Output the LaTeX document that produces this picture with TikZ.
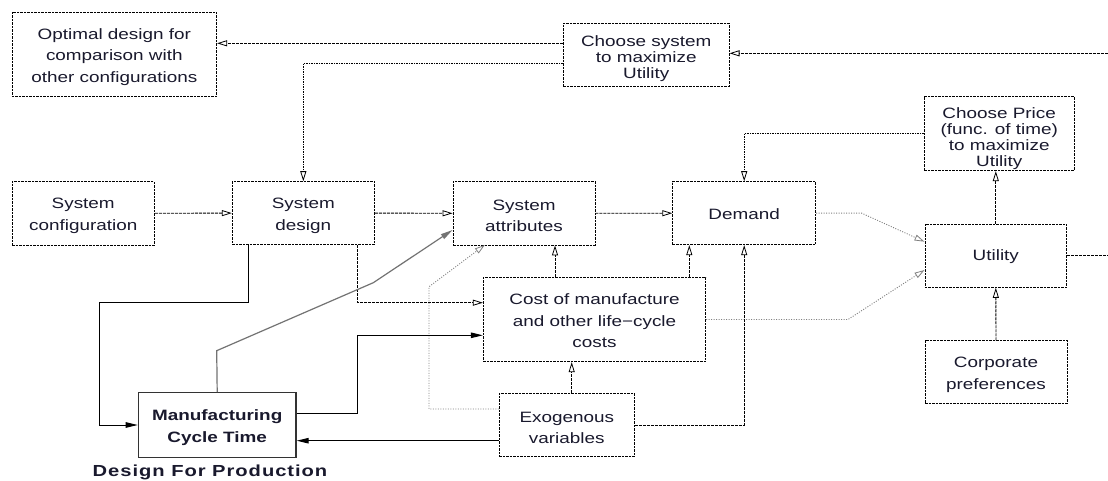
\documentclass[tikz,border=0pt]{standalone}
\usepackage{fontspec}
\setmainfont{Liberation Sans}[FakeStretch=1.26]
\usetikzlibrary{arrows.meta}
\definecolor{txt}{RGB}{25,25,45}
\newcommand{\stA}{\rule{0pt}{16pt}}
\newcommand{\stB}{\rule{0pt}{18pt}}
\newcommand{\stC}{\rule{0pt}{21pt}}
\newcommand{\stD}{\rule{0pt}{13.5pt}}
\begin{document}
\begin{tikzpicture}[x=1pt,y=-1pt,
  box/.style={draw=black, dash pattern=on 2.5pt off 1pt, line width=0.9pt, rectangle, inner sep=0pt, align=center, text=txt, font=\fontsize{15}{21.5}\selectfont},
  tbox/.style={box, font=\fontsize{15}{16}\selectfont},
  dsh/.style={draw=black, line width=0.9pt, dash pattern=on 3pt off 1pt},
  dts/.style={draw=black, line width=0.9pt, dash pattern=on 1.5pt off 1pt},
  gdt/.style={draw=black!50, line width=0.9pt, dash pattern=on 1pt off 1.5pt},
  sol/.style={draw=black, line width=1pt},
  gsol/.style={draw=black!55, line width=1.2pt},
  oarr/.style={-{Triangle[open,length=10pt,width=6pt,line width=0.8pt]}},
  farr/.style={-{Triangle[length=12pt,width=5.5pt]}},
]
\useasboundingbox (0,0) rectangle (1108,481);
\fill[white] (0,0) rectangle (1108,481);

% nodes
\node[box, minimum width=204.7pt, minimum height=84.4pt] (opt) at (114.3,54.5) {\stA Optimal design for\\comparison with\\other configurations};
\node[tbox, minimum width=165.7pt, minimum height=62.7pt] (csys) at (646.2,54.7) {\stB Choose system\\to maximize\\Utility};
\node[tbox, minimum width=149.7pt, minimum height=74pt] (cprice) at (999.2,133.7) {\stC Choose Price\\(func. of time)\\to maximize\\Utility};
\node[box, minimum width=142.3pt, minimum height=63.3pt] (sconf) at (83.2,213.3) {\stA System\\configuration};
\node[box, minimum width=142pt, minimum height=62.8pt] (sdes) at (303.3,213.1) {\stA System\\design};
\node[box, minimum width=142pt, minimum height=63.3pt] (sattr) at (524,213.3) {\stA System\\attributes};
\node[box, minimum width=143pt, minimum height=63pt] (demand) at (744.2,213.2) {\stD Demand};
\node[box, minimum width=141.7pt, minimum height=63.3pt] (util) at (995.8,255.7) {\stD Utility};
\node[box, minimum width=222.4pt, minimum height=84.4pt] (cost) at (594.5,319.5) {\stD Cost of manufacture\\and other life−cycle\\costs};
\node[box, minimum width=142pt, minimum height=62.6pt] (corp) at (996,372) {\stA Corporate\\preferences};
\node[draw=black!80, line width=1.3pt, rectangle, inner sep=0pt, align=center, text=txt, font=\fontsize{15}{21.5}\selectfont\bfseries, minimum width=157.7pt, minimum height=64.6pt] (manuf) at (217.2,425) {\stA Manufacturing\\Cycle Time};
\node[box, minimum width=135pt, minimum height=63.4pt] (exog) at (566.8,425) {\stA Exogenous\\variables};
\node[text=txt, inner sep=0pt, font=\fontsize{16}{18}\selectfont\bfseries\addfontfeature{LetterSpace=6}] (dfp) at (210,472.7) {Design For Production};

% helper coordinates
\coordinate (rU) at (1108,255.7);
\coordinate (rC) at (1108,53.3);
\coordinate (x555) at (555,0);
\coordinate (x689) at (689.3,0);
\coordinate (x572) at (571.7,0);
\coordinate (x358) at (357.7,0);
\coordinate (x248) at (248.3,0);
\coordinate (dmb) at (861.7,213.2);
\coordinate (csb) at (848,319.5);
\coordinate (exa) at (429,409);
\coordinate (exb) at (429,286.7);
\coordinate (exc) at (484.8,245);
\coordinate (sdm) at (99,302.7);
\coordinate (mga) at (216.7,350.7);
\coordinate (mgb) at (373.3,282.7);

% connectors
\draw[dsh, oarr] (csys.west |- 0,43.3) -- (opt.east |- 0,43.3);
\draw[dts, oarr] (csys.west |- 0,63.3) -| (sdes.north);
\draw[dsh] (util.east) -- (rU);
\draw[dsh, oarr] (rC) -- (csys.east |- rC);
\draw[dsh, oarr] (sconf.east) -- (sdes.west);
\draw[dsh, oarr] (sdes.east) -- (sattr.west);
\draw[dsh, oarr] (sattr.east) -- (demand.west);
\draw[gdt, oarr] (demand.east) -- (dmb) -- (util.west |- 0,241.7);
\draw[gdt, oarr] (cost.east) -- (csb) -- (util.west |- 0,270);
\draw[dsh, oarr] (util.north) -- (util.north |- cprice.south);
\draw[dts, oarr] (cprice.west |- 0,133.3) -| (demand.north);
\draw[dsh, oarr] (corp.north) -- (util.south);
\draw[dsh, oarr] (cost.north -| x555) -- (sattr.south -| x555);
\draw[dsh, oarr] (cost.north -| x689) -- (demand.south -| x689);
\draw[dsh, oarr] (exog.east) -| (demand.south);
\draw[dsh, oarr] (exog.north -| x572) -- (cost.south -| x572);
\draw[gdt, oarr] (exog.west |- exa) -- (exa) -- (exb) -- (exc);
\draw[dsh, oarr] (sdes.south -| x358) |- (cost.west |- 0,302.7);
\draw[sol, farr] (sdes.south -| x248) |- (sdm) |- (manuf.west);
\draw[gsol, farr] (manuf.north) -- (mga) -- (mgb) -- (sattr.west |- 0,230);
\draw[sol, farr] (manuf.east |- 0,413.3) -- (x358 |- 0,413.3) |- (cost.west |- 0,335.3);
\draw[sol, farr] (exog.west |- 0,440.7) -- (manuf.east |- 0,440.7);
\end{tikzpicture}
\end{document}
